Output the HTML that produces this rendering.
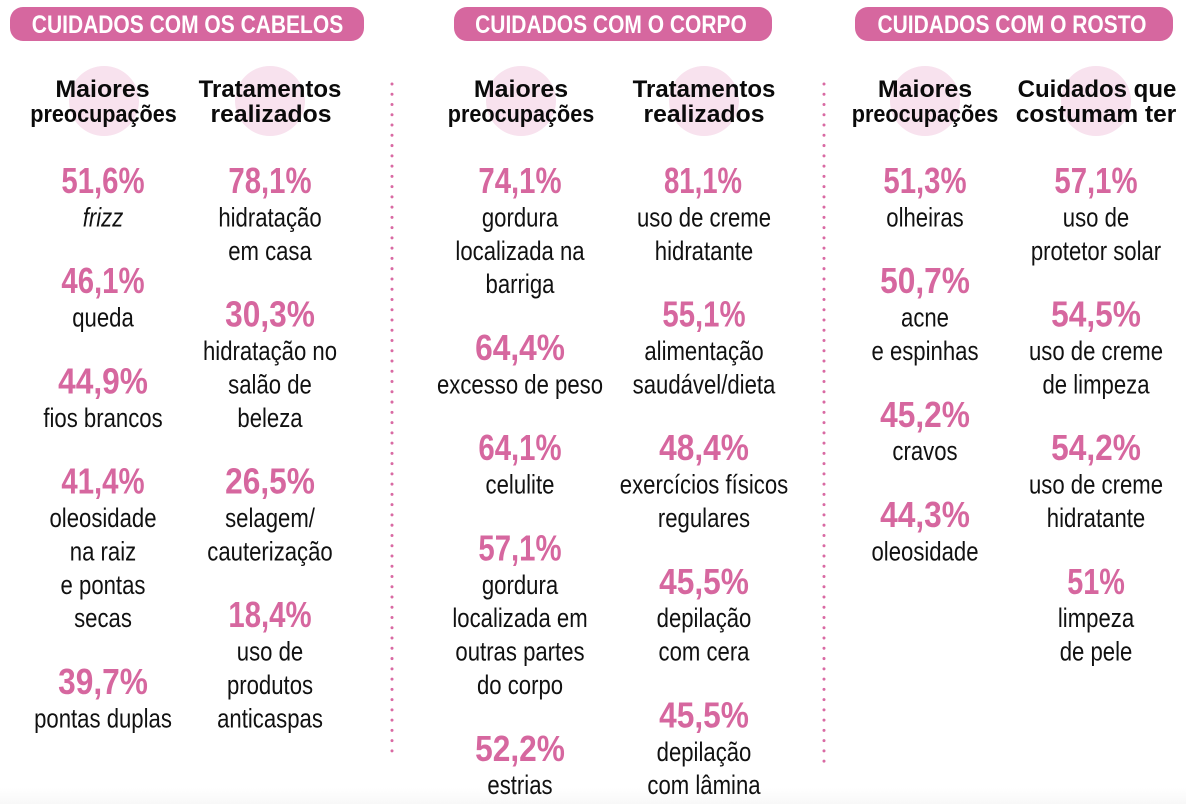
<!DOCTYPE html>
<html>
<head>
<meta charset="utf-8">
<style>
  html,body{margin:0;padding:0;background:#fff;}
  svg{display:block;}
  .p{font-family:"Liberation Sans",sans-serif;font-weight:bold;font-size:36px;fill:#d6679f;text-anchor:middle;}
  .b{font-family:"Liberation Sans",sans-serif;font-size:27px;fill:#111;text-anchor:middle;}
  .h{font-family:"Liberation Sans",sans-serif;font-weight:bold;font-size:24px;fill:#0a0a0a;text-anchor:middle;}
  .t{font-family:"Liberation Sans",sans-serif;font-weight:bold;font-size:25px;fill:#fff;text-anchor:middle;}
</style>
</head>
<body>
<svg width="1186" height="804" viewBox="0 0 1186 804" xmlns="http://www.w3.org/2000/svg">
  <defs>
    <linearGradient id="bg" x1="0" y1="0" x2="0" y2="1">
      <stop offset="0" stop-color="#ffffff"/>
      <stop offset="1" stop-color="#f8f8f8"/>
    </linearGradient>
  </defs>
  <rect x="0" y="0" width="1186" height="804" fill="#fff"/>
  <rect x="0" y="788" width="1186" height="16" fill="url(#bg)"/>

  <!-- Pills -->
  <rect x="10" y="7" width="354" height="34" rx="13" fill="#d6679f"/>
  <rect x="454" y="7" width="318" height="34" rx="13" fill="#d6679f"/>
  <rect x="855" y="7" width="318" height="34" rx="13" fill="#d6679f"/>
  <text class="t" transform="translate(187.5,33) scale(0.84,1)">CUIDADOS COM OS CABELOS</text>
  <text class="t" transform="translate(611,33) scale(0.84,1)">CUIDADOS COM O CORPO</text>
  <text class="t" transform="translate(1012,33) scale(0.84,1)">CUIDADOS COM O ROSTO</text>

  <!-- dotted dividers -->
  <line x1="392" y1="84" x2="392" y2="758" stroke="#d96aa3" stroke-width="3" stroke-linecap="round" stroke-dasharray="0.01 10.25"/>
  <line x1="824" y1="84" x2="824" y2="762" stroke="#d96aa3" stroke-width="3" stroke-linecap="round" stroke-dasharray="0.01 10.25"/>

  <!-- header circles -->
  <circle cx="104" cy="101" r="35" fill="#f8e2ee"/>
  <circle cx="270" cy="101" r="35" fill="#f8e2ee"/>
  <circle cx="521" cy="101" r="35" fill="#f8e2ee"/>
  <circle cx="704" cy="101" r="35" fill="#f8e2ee"/>
  <circle cx="925" cy="101" r="35" fill="#f8e2ee"/>
  <circle cx="1096" cy="101" r="35" fill="#f8e2ee"/>

  <!-- headers -->
  <text class="h" transform="translate(102.5,97) scale(1.04,1)">Maiores</text>
  <text class="h" transform="translate(103.5,122) scale(0.9,1)">preocupações</text>
  <text class="h" transform="translate(270,97)">Tratamentos</text>
  <text class="h" transform="translate(271,122) scale(1.03,1)">realizados</text>

  <text class="h" transform="translate(521,97) scale(1.04,1)">Maiores</text>
  <text class="h" transform="translate(521,122) scale(0.9,1)">preocupações</text>
  <text class="h" transform="translate(704,97)">Tratamentos</text>
  <text class="h" transform="translate(704,122) scale(1.03,1)">realizados</text>

  <text class="h" transform="translate(925,97) scale(1.04,1)">Maiores</text>
  <text class="h" transform="translate(925,122) scale(0.9,1)">preocupações</text>
  <text class="h" transform="translate(1097,97)">Cuidados que</text>
  <text class="h" transform="translate(1096,122) scale(1.02,1)">costumam ter</text>

  <!-- Column 1 : c=103 ; baseline y = 193 + 33.4k -->
  <text class="p" transform="translate(103,193) scale(0.815,1)">51,6%</text>
  <text class="b" transform="translate(103,226.4) scale(0.82,1)" font-style="italic">frizz</text>
  <text class="p" transform="translate(103,293.2) scale(0.815,1)">46,1%</text>
  <text class="b" transform="translate(103,326.6) scale(0.82,1)">queda</text>
  <text class="p" transform="translate(103,393.4) scale(0.88,1)">44,9%</text>
  <text class="b" transform="translate(103,426.8) scale(0.82,1)">fios brancos</text>
  <text class="p" transform="translate(103,493.6) scale(0.815,1)">41,4%</text>
  <text class="b" transform="translate(103,527) scale(0.82,1)">oleosidade</text>
  <text class="b" transform="translate(103,560.4) scale(0.82,1)">na raiz</text>
  <text class="b" transform="translate(103,593.8) scale(0.82,1)">e pontas</text>
  <text class="b" transform="translate(103,627.2) scale(0.82,1)">secas</text>
  <text class="p" transform="translate(103,694) scale(0.88,1)">39,7%</text>
  <text class="b" transform="translate(103,727.4) scale(0.82,1)">pontas duplas</text>

  <!-- Column 2 : c=270 -->
  <text class="p" transform="translate(270,193) scale(0.815,1)">78,1%</text>
  <text class="b" transform="translate(270,226.4) scale(0.82,1)">hidratação</text>
  <text class="b" transform="translate(270,259.8) scale(0.82,1)">em casa</text>
  <text class="p" transform="translate(270,326.6) scale(0.88,1)">30,3%</text>
  <text class="b" transform="translate(270,360) scale(0.82,1)">hidratação no</text>
  <text class="b" transform="translate(270,393.4) scale(0.82,1)">salão de</text>
  <text class="b" transform="translate(270,426.8) scale(0.82,1)">beleza</text>
  <text class="p" transform="translate(270,493.6) scale(0.88,1)">26,5%</text>
  <text class="b" transform="translate(270,527) scale(0.82,1)">selagem/</text>
  <text class="b" transform="translate(270,560.4) scale(0.82,1)">cauterização</text>
  <text class="p" transform="translate(270,627.2) scale(0.815,1)">18,4%</text>
  <text class="b" transform="translate(270,660.6) scale(0.82,1)">uso de</text>
  <text class="b" transform="translate(270,694) scale(0.82,1)">produtos</text>
  <text class="b" transform="translate(270,727.4) scale(0.82,1)">anticaspas</text>

  <!-- Column 3 : c=520 -->
  <text class="p" transform="translate(520,193) scale(0.815,1)">74,1%</text>
  <text class="b" transform="translate(520,226.4) scale(0.82,1)">gordura</text>
  <text class="b" transform="translate(520,259.8) scale(0.82,1)">localizada na</text>
  <text class="b" transform="translate(520,293.2) scale(0.82,1)">barriga</text>
  <text class="p" transform="translate(520,360) scale(0.88,1)">64,4%</text>
  <text class="b" transform="translate(520,393.4) scale(0.82,1)">excesso de peso</text>
  <text class="p" transform="translate(520,460.2) scale(0.815,1)">64,1%</text>
  <text class="b" transform="translate(520,493.6) scale(0.82,1)">celulite</text>
  <text class="p" transform="translate(520,560.4) scale(0.815,1)">57,1%</text>
  <text class="b" transform="translate(520,593.8) scale(0.82,1)">gordura</text>
  <text class="b" transform="translate(520,627.2) scale(0.82,1)">localizada em</text>
  <text class="b" transform="translate(520,660.6) scale(0.82,1)">outras partes</text>
  <text class="b" transform="translate(520,694) scale(0.82,1)">do corpo</text>
  <text class="p" transform="translate(520,760.8) scale(0.88,1)">52,2%</text>
  <text class="b" transform="translate(520,794.2) scale(0.82,1)">estrias</text>

  <!-- Column 4 : c=704 -->
  <text class="p" transform="translate(703,193) scale(0.765,1)">81,1%</text>
  <text class="b" transform="translate(704,226.4) scale(0.82,1)">uso de creme</text>
  <text class="b" transform="translate(704,259.8) scale(0.82,1)">hidratante</text>
  <text class="p" transform="translate(704,326.6) scale(0.815,1)">55,1%</text>
  <text class="b" transform="translate(704,360) scale(0.82,1)">alimentação</text>
  <text class="b" transform="translate(704,393.4) scale(0.82,1)">saudável/dieta</text>
  <text class="p" transform="translate(704,460.2) scale(0.88,1)">48,4%</text>
  <text class="b" transform="translate(704,493.6) scale(0.82,1)">exercícios físicos</text>
  <text class="b" transform="translate(704,527) scale(0.82,1)">regulares</text>
  <text class="p" transform="translate(704,593.8) scale(0.88,1)">45,5%</text>
  <text class="b" transform="translate(704,627.2) scale(0.82,1)">depilação</text>
  <text class="b" transform="translate(704,660.6) scale(0.82,1)">com cera</text>
  <text class="p" transform="translate(704,727.4) scale(0.88,1)">45,5%</text>
  <text class="b" transform="translate(704,760.8) scale(0.82,1)">depilação</text>
  <text class="b" transform="translate(704,794.2) scale(0.82,1)">com lâmina</text>

  <!-- Column 5 : c=925 -->
  <text class="p" transform="translate(925,193) scale(0.815,1)">51,3%</text>
  <text class="b" transform="translate(925,226.4) scale(0.82,1)">olheiras</text>
  <text class="p" transform="translate(925,293.2) scale(0.88,1)">50,7%</text>
  <text class="b" transform="translate(925,326.6) scale(0.82,1)">acne</text>
  <text class="b" transform="translate(925,360) scale(0.82,1)">e espinhas</text>
  <text class="p" transform="translate(925,427) scale(0.88,1)">45,2%</text>
  <text class="b" transform="translate(925,460.2) scale(0.82,1)">cravos</text>
  <text class="p" transform="translate(925,527) scale(0.88,1)">44,3%</text>
  <text class="b" transform="translate(925,560.4) scale(0.82,1)">oleosidade</text>

  <!-- Column 6 : c=1096 -->
  <text class="p" transform="translate(1096,193) scale(0.815,1)">57,1%</text>
  <text class="b" transform="translate(1096,226.4) scale(0.82,1)">uso de</text>
  <text class="b" transform="translate(1096,259.8) scale(0.82,1)">protetor solar</text>
  <text class="p" transform="translate(1096,326.6) scale(0.88,1)">54,5%</text>
  <text class="b" transform="translate(1096,360) scale(0.82,1)">uso de creme</text>
  <text class="b" transform="translate(1096,393.4) scale(0.82,1)">de limpeza</text>
  <text class="p" transform="translate(1096,460.2) scale(0.88,1)">54,2%</text>
  <text class="b" transform="translate(1096,493.6) scale(0.82,1)">uso de creme</text>
  <text class="b" transform="translate(1096,527) scale(0.82,1)">hidratante</text>
  <text class="p" transform="translate(1096,593.8) scale(0.8,1)">51%</text>
  <text class="b" transform="translate(1096,627.2) scale(0.82,1)">limpeza</text>
  <text class="b" transform="translate(1096,660.6) scale(0.82,1)">de pele</text>
</svg>
</body>
</html>
